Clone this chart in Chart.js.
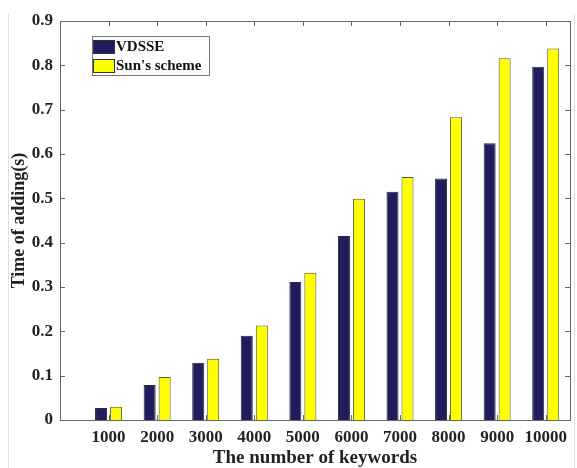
<!DOCTYPE html>
<html>
<head>
<meta charset="utf-8">
<script src="https://cdn.jsdelivr.net/npm/chart.js@4/dist/chart.umd.min.js"></script>
<style>
html,body{margin:0;padding:0;background:#fff;}
#wrap{width:577px;height:468px;position:relative;}
</style>
</head>
<body>
<div id="wrap"><canvas id="c" width="577" height="468"></canvas></div>
<script>
const categories = [1000, 2000, 3000, 4000, 5000, 6000, 7000, 8000, 9000, 10000];
const vdsse = [0.027, 0.079, 0.129, 0.190, 0.311, 0.415, 0.515, 0.545, 0.624, 0.797];
const sunScheme = [0.030, 0.097, 0.138, 0.213, 0.332, 0.499, 0.548, 0.683, 0.816, 0.838];
const yTicks = [0, 0.1, 0.2, 0.3, 0.4, 0.5, 0.6, 0.7, 0.8, 0.9];
const seriesNames = ['VDSSE', "Sun's scheme"];

const serif = "'Liberation Serif','DejaVu Serif',serif";

const framePlugin = {
  id: 'frame',
  afterDatasetsDraw(chart) {
    const {ctx, chartArea: a, scales: {x, y}} = chart;
    ctx.save();
    ctx.strokeStyle = '#666';
    ctx.lineWidth = 1;
    ctx.strokeRect(Math.round(a.left) + 0.5, Math.round(a.top) + 0.5, Math.round(a.right - a.left), Math.round(a.bottom - a.top));
    ctx.beginPath();
    categories.forEach(v => {
      const px = Math.round(x.getPixelForValue(v)) + 0.5;
      ctx.moveTo(px, a.top); ctx.lineTo(px, a.top + 5);
      ctx.moveTo(px, a.bottom); ctx.lineTo(px, a.bottom - 5);
    });
    yTicks.forEach(v => {
      const py = Math.round(y.getPixelForValue(v)) + 0.5;
      ctx.moveTo(a.left, py); ctx.lineTo(a.left + 5, py);
      ctx.moveTo(a.right, py); ctx.lineTo(a.right - 5, py);
    });
    ctx.stroke();
    // legend
    const lx = 92, ly = 36, lw = 117, lh = 39;
    ctx.fillStyle = '#fff';
    ctx.fillRect(lx, ly, lw, lh);
    ctx.strokeStyle = '#777';
    ctx.strokeRect(lx + 0.5, ly + 0.5, lw, lh);
    ctx.font = 'bold 15px ' + serif;
    ctx.textBaseline = 'middle';
    chart.data.datasets.forEach((ds, i) => {
      const sy = ly + 4 + i * 19;
      ctx.fillStyle = ds.backgroundColor;
      ctx.fillRect(lx + 1, sy, 21, 13);
      ctx.strokeStyle = '#333';
      ctx.strokeRect(lx + 1.5, sy + 0.5, 21, 13);
      ctx.fillStyle = '#111';
      ctx.fillText(ds.label, lx + 24, sy + 7.5);
    });
    // faint page edges
    ctx.strokeStyle = '#e0e0e0';
    ctx.beginPath();
    ctx.moveTo(8.5, 14); ctx.lineTo(8.5, 468);
    ctx.moveTo(574.5, 14); ctx.lineTo(574.5, 468);
    ctx.stroke();
    ctx.restore();
  }
};

new Chart(document.getElementById('c'), {
  type: 'bar',
  data: {
    datasets: [
      {
        label: seriesNames[0],
        data: categories.map((c, i) => ({x: c, y: vdsse[i]})),
        backgroundColor: '#201c5e',
        borderColor: '#2a2a3a',
        borderWidth: 1,
        categoryPercentage: 0.618,
        barPercentage: 0.8
      },
      {
        label: seriesNames[1],
        data: categories.map((c, i) => ({x: c, y: sunScheme[i]})),
        backgroundColor: '#ffff00',
        borderColor: '#555533',
        borderWidth: 1,
        categoryPercentage: 0.618,
        barPercentage: 0.8
      }
    ]
  },
  options: {
    responsive: false,
    animation: false,
    layout: {padding: {left: 0, right: 7, top: 21, bottom: 0}},
    plugins: {legend: {display: false}, tooltip: {enabled: false}},
    scales: {
      x: {
        type: 'linear',
        offset: false,
        min: 0,
        max: 10500,
        afterBuildTicks: s => { s.ticks = categories.map(v => ({value: v})); },
        afterFit: s => { s.height = 48; },
        grid: {display: false, drawTicks: false, offset: false},
        border: {display: false},
        ticks: {
          color: '#222',
          font: {family: serif, weight: 'bold', size: 17},
          padding: 7,
          maxRotation: 0,
          autoSkip: false,
          callback: v => String(v)
        },
        title: {
          display: true,
          text: 'The number of keywords',
          color: '#222',
          font: {family: serif, weight: 'bold', size: 19, lineHeight: 1},
          padding: {top: 0, bottom: 0}
        }
      },
      y: {
        min: 0,
        max: 0.9,
        afterBuildTicks: s => { s.ticks = yTicks.map(v => ({value: v})); },
        afterFit: s => { s.width = 60; },
        grid: {display: false, drawTicks: false},
        border: {display: false},
        ticks: {
          color: '#222',
          font: {family: serif, weight: 'bold', size: 17},
          padding: 7,
          callback: v => String(Math.round(v * 10) / 10)
        },
        title: {
          display: true,
          text: 'Time of adding(s)',
          color: '#222',
          font: {family: serif, weight: 'bold', size: 18, lineHeight: 1},
          padding: {top: 10, bottom: 0}
        }
      }
    }
  },
  plugins: [framePlugin]
});
</script>
</body>
</html>
